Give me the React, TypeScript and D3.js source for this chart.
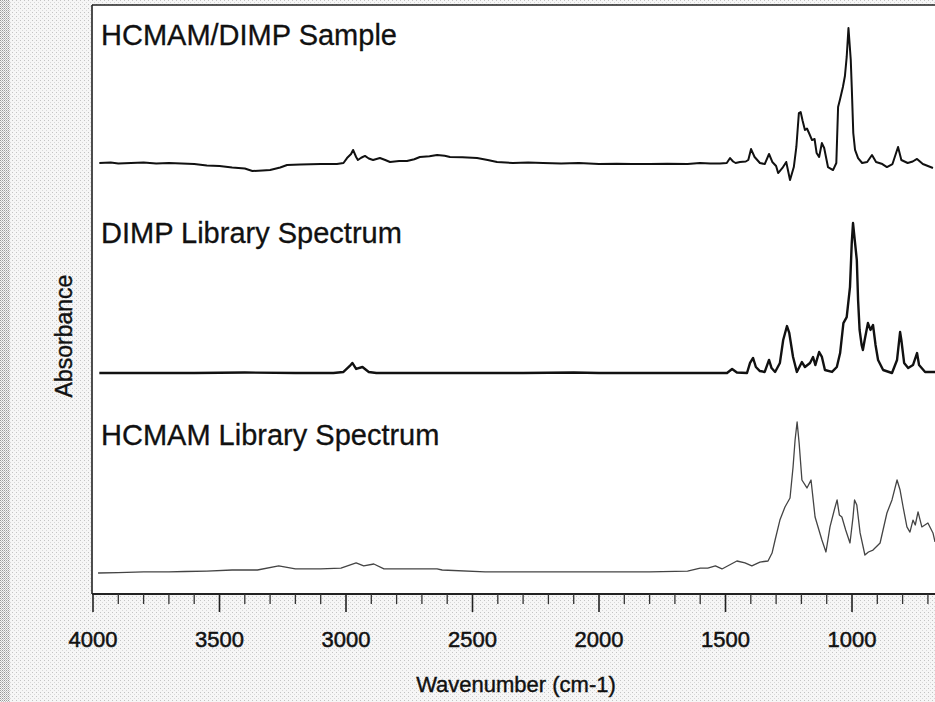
import React from "react";
import * as d3 from "d3";

const W = 935;
const H = 702;

// Axis ticks
const majorTicks = [4000, 3500, 3000, 2500, 2000, 1500, 1000];
const majorTickLabels = ["4000", "3500", "3000", "2500", "2000", "1500", "1000"];
const minorTicks = [3900, 3800, 3700, 3600, 3400, 3300, 3200, 3100, 2900, 2800, 2700, 2600, 2400, 2300, 2200, 2100, 1900, 1800, 1700, 1600, 1400, 1300, 1200, 1100, 900, 800, 700];

const panelLabels = ["HCMAM/DIMP Sample", "DIMP Library Spectrum", "HCMAM Library Spectrum"];
const xTitle = "Wavenumber (cm-1)";
const yTitle = "Absorbance";

// HCMAM/DIMP sample spectrum
const sampleWavenumbers = [3975, 3930, 3900, 3850, 3800, 3750, 3700, 3650, 3600, 3550, 3500, 3450, 3400, 3370, 3330, 3300, 3260, 3233, 3180, 3100, 3036, 3010, 2996, 2980, 2972, 2960, 2953, 2940, 2925, 2910, 2893, 2866, 2845, 2826, 2790, 2759, 2730, 2708, 2670, 2640, 2610, 2589, 2540, 2482, 2440, 2403, 2340, 2280, 2221, 2150, 2080, 2000, 1930, 1870, 1800, 1730, 1650, 1601, 1560, 1522, 1495, 1482, 1470, 1460, 1443, 1420, 1410, 1399, 1385, 1364, 1345, 1328, 1315, 1300, 1292, 1275, 1260, 1245, 1230, 1220, 1210, 1203, 1195, 1186, 1178, 1170, 1158, 1148, 1140, 1130, 1119, 1110, 1095, 1075, 1062, 1055, 1048, 1036, 1028, 1021, 1014, 1005, 1001, 995, 988, 976, 960, 940, 921, 905, 880, 862, 840, 818, 805, 780, 760, 743, 720, 700, 680];
const sampleAbsorbance = [0.08, 0.083, 0.077, 0.08, 0.083, 0.077, 0.08, 0.077, 0.073, 0.063, 0.06, 0.05, 0.043, 0.027, 0.03, 0.033, 0.05, 0.067, 0.07, 0.073, 0.073, 0.08, 0.113, 0.14, 0.167, 0.12, 0.1, 0.115, 0.127, 0.11, 0.1, 0.113, 0.1, 0.087, 0.093, 0.093, 0.105, 0.12, 0.125, 0.133, 0.128, 0.12, 0.118, 0.113, 0.1, 0.087, 0.08, 0.083, 0.08, 0.077, 0.08, 0.073, 0.075, 0.073, 0.073, 0.075, 0.073, 0.08, 0.077, 0.077, 0.08, 0.113, 0.09, 0.08, 0.087, 0.09, 0.1, 0.173, 0.12, 0.08, 0.073, 0.14, 0.087, 0.06, 0.013, 0.047, 0.087, -0.033, 0.053, 0.187, 0.413, 0.42, 0.36, 0.3, 0.31, 0.28, 0.233, 0.24, 0.147, 0.12, 0.213, 0.18, 0.053, 0.033, 0.08, 0.453, 0.5, 0.587, 0.66, 0.787, 0.98, 0.77, 0.587, 0.28, 0.167, 0.113, 0.08, 0.087, 0.133, 0.087, 0.073, 0.053, 0.073, 0.187, 0.1, 0.08, 0.09, 0.107, 0.073, 0.06, 0.047];

// DIMP library spectrum
const dimpWavenumbers = [3975, 3800, 3600, 3400, 3200, 3050, 3010, 2985, 2975, 2960, 2935, 2910, 2880, 2700, 2500, 2300, 2100, 2000, 1900, 1700, 1601, 1494, 1474, 1455, 1415, 1403, 1391, 1380, 1364, 1345, 1328, 1318, 1304, 1285, 1272, 1257, 1248, 1233, 1218, 1198, 1186, 1166, 1154, 1145, 1130, 1119, 1107, 1079, 1060, 1047, 1034, 1021, 1008, 1001, 996, 988, 981, 976, 970, 962, 957, 950, 937, 927, 917, 907, 897, 877, 842, 822, 810, 805, 794, 778, 759, 743, 735, 711, 672];
const dimpAbsorbance = [0.08, 0.08, 0.08, 0.083, 0.08, 0.08, 0.087, 0.127, 0.147, 0.107, 0.12, 0.087, 0.08, 0.08, 0.08, 0.08, 0.083, 0.08, 0.08, 0.08, 0.08, 0.08, 0.107, 0.083, 0.08, 0.147, 0.18, 0.12, 0.093, 0.087, 0.167, 0.113, 0.087, 0.147, 0.3, 0.393, 0.347, 0.187, 0.087, 0.153, 0.12, 0.147, 0.187, 0.133, 0.22, 0.187, 0.1, 0.087, 0.12, 0.213, 0.413, 0.453, 0.653, 0.947, 1.08, 0.947, 0.833, 0.567, 0.367, 0.267, 0.233, 0.3, 0.413, 0.367, 0.4, 0.267, 0.167, 0.1, 0.08, 0.167, 0.353, 0.3, 0.147, 0.113, 0.133, 0.213, 0.133, 0.087, 0.087];

// HCMAM library spectrum
const hcmamWavenumbers = [3980, 3900, 3800, 3700, 3636, 3550, 3450, 3350, 3266, 3200, 3100, 3020, 2960, 2930, 2890, 2850, 2700, 2640, 2620, 2450, 2300, 2000, 1800, 1650, 1600, 1570, 1540, 1514, 1455, 1423, 1396, 1364, 1332, 1316, 1304, 1285, 1265, 1245, 1233, 1225, 1217, 1209, 1198, 1178, 1162, 1146, 1119, 1103, 1087, 1070, 1059, 1050, 1040, 1025, 1008, 996, 990, 981, 968, 949, 935, 917, 889, 862, 842, 822, 810, 798, 783, 771, 759, 750, 739, 724, 700, 680, 672];
const hcmamAbsorbance = [0.08, 0.083, 0.087, 0.087, 0.09, 0.093, 0.1, 0.1, 0.127, 0.107, 0.107, 0.113, 0.147, 0.127, 0.14, 0.107, 0.107, 0.107, 0.1, 0.087, 0.087, 0.087, 0.087, 0.093, 0.113, 0.113, 0.127, 0.107, 0.16, 0.147, 0.127, 0.153, 0.16, 0.213, 0.3, 0.433, 0.52, 0.58, 0.787, 0.967, 1.087, 0.947, 0.7, 0.647, 0.7, 0.453, 0.3, 0.22, 0.387, 0.5, 0.567, 0.467, 0.453, 0.367, 0.28, 0.453, 0.567, 0.533, 0.347, 0.2, 0.22, 0.233, 0.28, 0.48, 0.567, 0.7, 0.633, 0.52, 0.387, 0.353, 0.433, 0.4, 0.487, 0.387, 0.413, 0.347, 0.287];

const FONT = "'Liberation Sans', Arial, Helvetica, sans-serif";

export default function App() {
  const plotLeft = 92;
  const plotTop = 5;
  const plotBottom = 594;

  const x = d3.scaleLinear().domain([4000, 670]).range([93, 935.5]);
  const yTop = d3.scaleLinear().domain([0, 1]).range([175, 25]);
  const yMid = d3.scaleLinear().domain([0, 1]).range([385, 235]);
  const yBot = d3.scaleLinear().domain([0, 1]).range([585, 435]);

  const mk = (wn: number[], ab: number[], y: d3.ScaleLinear<number, number>) =>
    d3.line<number>().x((_, i) => x(wn[i])).y((_, i) => y(ab[i]))(ab) || "";

  const pathTop = mk(sampleWavenumbers, sampleAbsorbance, yTop);
  const pathMid = mk(dimpWavenumbers, dimpAbsorbance, yMid);
  const pathBot = mk(hcmamWavenumbers, hcmamAbsorbance, yBot);

  const labelY = [45, 243, 445];

  return (
    <svg width={W} height={H} style={{ position: "absolute", left: 0, top: 0, display: "block" }}>
      <defs>
        <pattern id="ht" width="4" height="4" patternUnits="userSpaceOnUse">
          <rect x="0" y="0" width="1" height="1" fill="#9a9a9a" />
          <rect x="2" y="2" width="1" height="1" fill="#c0c0c0" />
        </pattern>
        <pattern id="htDark" width="2" height="2" patternUnits="userSpaceOnUse">
          <rect x="0" y="0" width="1" height="1" fill="#8a8a8a" />
          <rect x="1" y="1" width="1" height="1" fill="#b5b5b5" />
        </pattern>
      </defs>
      <rect x={0} y={0} width={W} height={H} fill="#f6f6f6" />
      <rect x={0} y={0} width={W} height={H} fill="url(#ht)" opacity={0.55} />
      <rect x={0} y={0} width={10} height={H} fill="url(#htDark)" opacity={0.8} />
      <rect x={plotLeft} y={plotTop} width={W - plotLeft} height={plotBottom - plotTop} fill="#ffffff" />

      {/* frame */}
      <line x1={plotLeft} x2={W} y1={plotTop} y2={plotTop} stroke="#222" strokeWidth={1.6} />
      <line x1={plotLeft} x2={plotLeft} y1={plotTop} y2={plotBottom} stroke="#222" strokeWidth={1.6} />
      <line x1={plotLeft} x2={W} y1={plotBottom} y2={plotBottom} stroke="#222" strokeWidth={1.8} />

      {/* ticks */}
      {majorTicks.map((t, i) => (
        <g key={"M" + t}>
          <line x1={x(t)} x2={x(t)} y1={plotBottom} y2={plotBottom + 18} stroke="#222" strokeWidth={1.6} />
          <text x={x(t)} y={647} textAnchor="middle" fontFamily={FONT} fontSize={22} fill="#111" stroke="#111" strokeWidth={0.5}>
            {majorTickLabels[i]}
          </text>
        </g>
      ))}
      {minorTicks.map((t) => (
        <line key={"m" + t} x1={x(t)} x2={x(t)} y1={plotBottom} y2={plotBottom + 10} stroke="#333" strokeWidth={1.3} />
      ))}

      <text x={516} y={692} textAnchor="middle" fontFamily={FONT} fontSize={22} fill="#111" stroke="#111" strokeWidth={0.4}>
        {xTitle}
      </text>
      <text transform="translate(72,336) rotate(-90)" textAnchor="middle" fontFamily={FONT} fontSize={23} fill="#111" stroke="#111" strokeWidth={0.4}>
        {yTitle}
      </text>

      {/* spectra */}
      <path d={pathTop} fill="none" stroke="#111" strokeWidth={2} strokeLinejoin="round" />
      <path d={pathMid} fill="none" stroke="#111" strokeWidth={2.4} strokeLinejoin="round" />
      <path d={pathBot} fill="none" stroke="#444" strokeWidth={1.3} strokeLinejoin="round" />

      {/* panel labels */}
      {panelLabels.map((l, i) => (
        <text key={l} x={101} y={labelY[i]} fontFamily={FONT} fontSize={29} fill="#111" stroke="#111" strokeWidth={0.3}>
          {l}
        </text>
      ))}
    </svg>
  );
}
